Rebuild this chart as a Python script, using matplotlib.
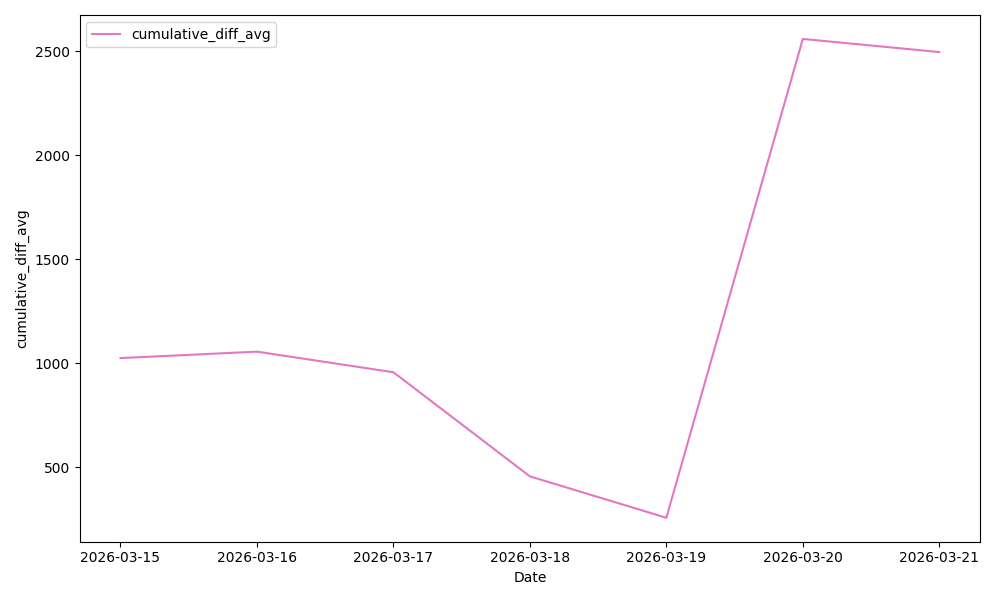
import pandas as pd
import numpy as np
from matplotlib import pyplot as plt

##################
# data
##################
dates = pd.to_datetime(['2026-03-15', '2026-03-16', '2026-03-17', '2026-03-18',
                        '2026-03-19', '2026-03-20', '2026-03-21'])
cumulative_diff_avg = [1025, 1056, 957, 457, 258, 2558, 2495]

df = pd.DataFrame({'Date': dates, 'cumulative_diff_avg': cumulative_diff_avg})

##################
# plot
##################
fig, ax = plt.subplots(figsize=(10, 6), dpi=100)
ax.plot(df['Date'], df['cumulative_diff_avg'], color='tab:pink', label='cumulative_diff_avg')
ax.set_xticks(df['Date'])
ax.set_xticklabels(df['Date'].dt.strftime('%Y-%m-%d'))
ax.set_xlabel('Date')
ax.set_ylabel('cumulative_diff_avg')
ax.legend(loc='upper left')
plt.tight_layout()
plt.savefig('out.png')
